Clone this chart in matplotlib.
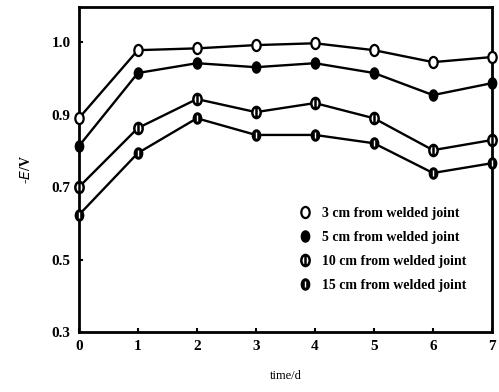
import matplotlib
matplotlib.use("Agg")
import matplotlib.pyplot as plt
from matplotlib.path import Path
from matplotlib.transforms import Affine2D
from matplotlib.legend_handler import HandlerTuple
from matplotlib.lines import Line2D

days = [0, 1, 2, 3, 4, 5, 6, 7]
# values on the drawn (linear) scale; the top tick is labelled "1.0" in the source
cm3 = [0.890, 1.078, 1.083, 1.092, 1.097, 1.078, 1.045, 1.059]
cm5 = [0.813, 1.015, 1.042, 1.031, 1.042, 1.015, 0.954, 0.987]
cm10 = [0.700, 0.863, 0.943, 0.907, 0.932, 0.890, 0.802, 0.830]
cm15 = [0.623, 0.794, 0.890, 0.844, 0.844, 0.821, 0.739, 0.766]
labels = ["3 cm from welded joint", "5 cm from welded joint",
          "10 cm from welded joint", "15 cm from welded joint"]
ytick_pos = [0.3, 0.5, 0.7, 0.9, 1.1]
ytick_lab = ["0.3", "0.5", "0.7", "0.9", "1.0"]

plt.rcParams['font.family'] = ['Liberation Serif', 'DejaVu Serif']

ell = Path.unit_circle().transformed(Affine2D().scale(0.75, 1.0))
# circle with a vertical bar through it
bar = Path([(0, -1.0), (0, 1.0)], [Path.MOVETO, Path.LINETO])
phi = Path.make_compound_path(ell, bar)
slit = Path([(0, -0.45), (0, 0.45)], [Path.MOVETO, Path.LINETO])

fig = plt.figure(figsize=(4.99, 3.92), dpi=100)
ax = fig.add_axes([0.158, 0.153, 0.828, 0.829])

ms = 8
kw = dict(color='black', lw=1.7, clip_on=False, zorder=3)
ax.plot(days, cm3, marker=ell, ms=ms, mfc='white', mec='black', mew=1.6, **kw)
ax.plot(days, cm5, marker=ell, ms=ms, mfc='black', mec='black', **kw)
ax.plot(days, cm10, marker=phi, ms=ms, mfc='white', mec='black', mew=1.8, **kw)
ax.plot(days, cm15, marker=ell, ms=ms, mfc='black', mec='black', **kw)
ax.plot(days, cm15, ls='none', marker=slit, ms=4, mec='white', mew=1.0,
        clip_on=False, zorder=4)

ax.set_xlim(0, 7)
ax.set_ylim(0.3, 1.197)
ax.set_xticks(days)
ax.set_yticks(ytick_pos)
ax.set_yticklabels(ytick_lab)
ax.tick_params(direction='in', length=3, width=1.5, labelsize=11, pad=6)
for lab in ax.get_xticklabels() + ax.get_yticklabels():
    lab.set_fontweight('bold')
for s in ax.spines.values():
    s.set_linewidth(2)

ax.set_xlabel('time/d', fontsize=9, labelpad=12)
ax.set_ylabel(r'-$E$/V', fontsize=10, fontweight='bold', labelpad=13)

h1 = Line2D([], [], ls='none', marker=ell, ms=ms, mfc='white', mec='black', mew=1.6)
h2 = Line2D([], [], ls='none', marker=ell, ms=ms, mfc='black', mec='black')
h3 = Line2D([], [], ls='none', marker=phi, ms=ms, mfc='white', mec='black', mew=1.8)
h4 = Line2D([], [], ls='none', marker=ell, ms=ms, mfc='black', mec='black')
h4s = Line2D([], [], ls='none', marker=slit, ms=4, mec='white', mew=1.0)
fig.legend([h1, h2, h3, (h4, h4s)], labels, loc='upper left',
           bbox_to_anchor=(298 / 499, 1 - 207 / 392), frameon=False,
           prop={'size': 10, 'weight': 'bold'}, borderpad=0, borderaxespad=0,
           handler_map={tuple: HandlerTuple(ndivide=1, pad=0)},
           handlelength=1.0, handletextpad=0.7, labelspacing=0.8)

fig.savefig('out.png', dpi=100)
